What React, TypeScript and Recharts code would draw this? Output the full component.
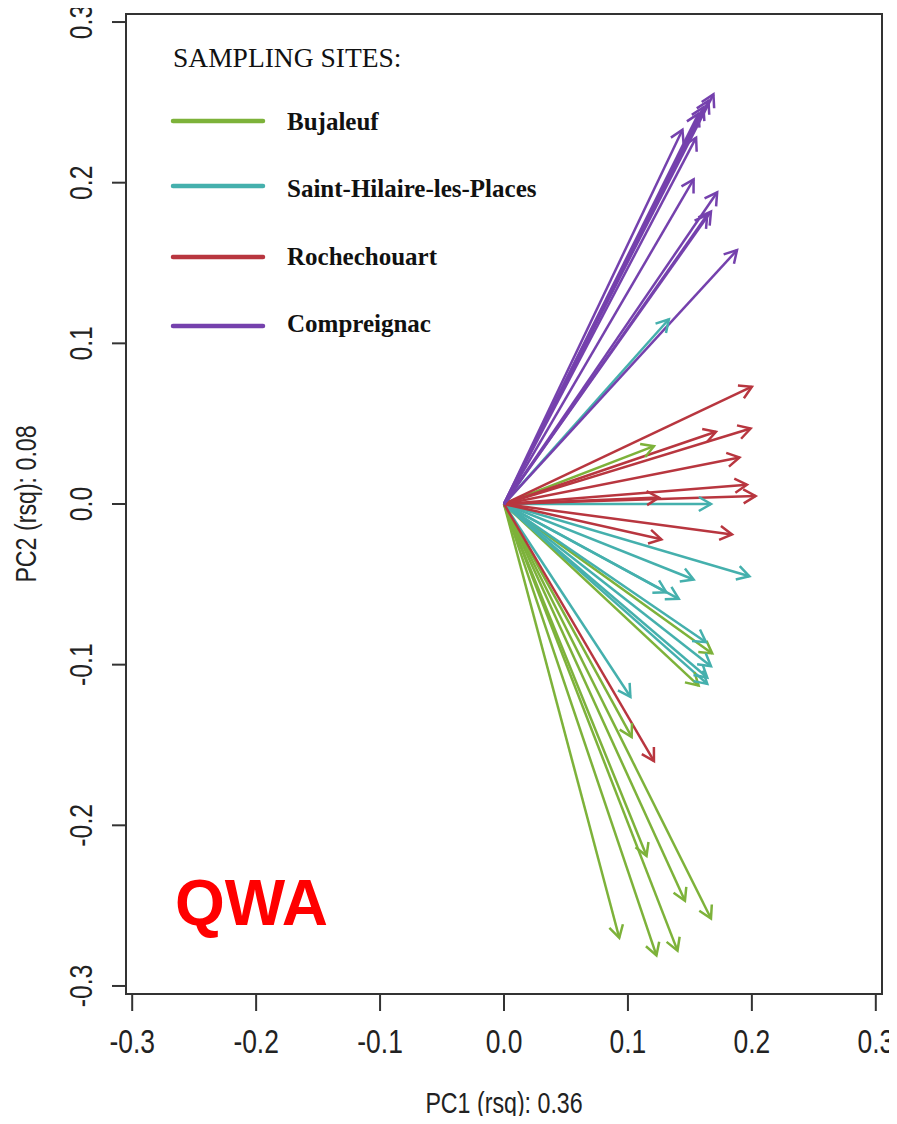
import { ComposedChart, Line, XAxis, YAxis, ReferenceArea, Legend, Label } from "recharts";

const sites = ["Bujaleuf", "Saint-Hilaire-les-Places", "Rochechouart", "Compreignac"];
const siteColors = ["#7db23a", "#45b0ad", "#b8363f", "#7541ad"];

// arrow tips (PC1, PC2), one list per site
const bujaleuf = [
  [0.121, 0.036], [0.168, -0.093], [0.157, -0.113], [0.103, -0.145], [0.093, -0.27],
  [0.123, -0.281], [0.14, -0.278], [0.115, -0.219], [0.146, -0.247], [0.167, -0.258],
];
const saintHilaire = [
  [0.133, 0.115], [0.167, 0.0], [0.198, -0.045], [0.153, -0.047], [0.131, -0.055],
  [0.141, -0.059], [0.163, -0.086], [0.167, -0.101], [0.164, -0.108], [0.164, -0.112],
  [0.102, -0.12],
];
const rochechouart = [
  [0.2, 0.073], [0.171, 0.045], [0.199, 0.047], [0.19, 0.029], [0.196, 0.012],
  [0.203, 0.005], [0.125, 0.004], [0.127, -0.022], [0.184, -0.019], [0.121, -0.16],
];
const compreignac = [
  [0.169, 0.255], [0.165, 0.251], [0.161, 0.247], [0.157, 0.243], [0.144, 0.233],
  [0.155, 0.228], [0.153, 0.202], [0.172, 0.194], [0.164, 0.18], [0.167, 0.182],
  [0.188, 0.158],
];
const siteTips = [bujaleuf, saintHilaire, rochechouart, compreignac];

const axisTicks = [-0.3, -0.2, -0.1, 0, 0.1, 0.2, 0.3];
const domain: [number, number] = [-0.305, 0.305];

const arrows = siteTips.flatMap((tips, s) =>
  tips.map((t, i) => ({
    key: `${s}-${i}`,
    color: siteColors[s],
    data: [{ x: 0, y: 0 }, { x: t[0], y: t[1] }],
  }))
);

const makeHead = (color: string) => (props: any) => {
  const { cx, cy, index, points, payload } = props;
  if (index !== 1 || cx == null) return <g key={`h${index}`} />;
  let ang: number;
  if (points && points.length > 1) ang = Math.atan2(cy - points[0].y, cx - points[0].x);
  else ang = Math.atan2(-payload.y * 1607, payload.x * 1239);
  const len = 14;
  const a1 = ang + Math.PI - Math.PI / 6;
  const a2 = ang + Math.PI + Math.PI / 6;
  return (
    <path
      key={`h${index}`}
      d={`M${cx + len * Math.cos(a1)},${cy + len * Math.sin(a1)} L${cx},${cy} L${cx + len * Math.cos(a2)},${cy + len * Math.sin(a2)}`}
      stroke={color}
      strokeWidth={2.5}
      fill="none"
    />
  );
};

const XTick = ({ x, y, payload }: any) => (
  <g transform={`translate(${x},${y + 40})`}>
    <text transform="scale(0.8,1)" textAnchor="middle" fontFamily="'Liberation Sans', Arial, sans-serif" fontSize={33} fill="#222">
      {Number(payload.value).toFixed(1)}
    </text>
  </g>
);

const YTick = ({ x, y, payload }: any) => (
  <g transform={`translate(${x - 18},${y}) rotate(-90)`}>
    <text transform="scale(0.8,1)" textAnchor="middle" fontFamily="'Liberation Sans', Arial, sans-serif" fontSize={31} fill="#222">
      {Number(payload.value).toFixed(1)}
    </text>
  </g>
);

const XTitle = ({ viewBox }: any) => (
  <g transform={`translate(${viewBox.x + viewBox.width / 2},${viewBox.y + 119})`}>
    <text transform="scale(0.8,1)" textAnchor="middle" fontFamily="'Liberation Sans', Arial, sans-serif" fontSize={29} fill="#222">
      PC1 (rsq): 0.36
    </text>
  </g>
);

const YTitle = ({ viewBox }: any) => (
  <g transform={`translate(${viewBox.x + 36},${viewBox.y + viewBox.height / 2}) rotate(-90)`}>
    <text transform="scale(0.8,1)" textAnchor="middle" fontFamily="'Liberation Sans', Arial, sans-serif" fontSize={29} fill="#222">
      PC2 (rsq): 0.08
    </text>
  </g>
);

const SiteLegend = () => (
  <svg width={420} height={920} style={{ overflow: "visible" }}>
    <text x={15} y={39} fontFamily="'Liberation Serif', 'Times New Roman', serif" fontSize={27.5} fill="#111">
      SAMPLING SITES:
    </text>
    {sites.map((name, i) => {
      const ly = [93, 158, 229, 298][i];
      const ty = [102, 169, 237, 304][i];
      return (
        <g key={name}>
          <line x1={15} x2={105} y1={ly} y2={ly} stroke={siteColors[i]} strokeWidth={4.5} strokeLinecap="round" />
          <text x={129} y={ty} fontFamily="'Liberation Serif', 'Times New Roman', serif" fontWeight="bold" fontSize={25} fill="#111">
            {name}
          </text>
        </g>
      );
    })}
    <text x={17} y={897} fontFamily="'Liberation Sans', Arial, sans-serif" fontWeight="bold" fontSize={64} fill="#ff0000">
      QWA
    </text>
  </svg>
);

export default function App() {
  return (
    <div style={{ position: "relative", width: 897, height: 1124, margin: -8 }}>
      <ComposedChart width={897} height={1124} margin={{ top: 14, right: 15, left: 0, bottom: 0 }}>
        <XAxis
          dataKey="x"
          type="number"
          domain={domain}
          ticks={axisTicks}
          allowDataOverflow
          axisLine={false}
          tickLine={{ stroke: "#333", strokeWidth: 2 }}
          tickSize={17}
          tick={<XTick />}
          height={130}
        >
          <Label content={<XTitle />} />
        </XAxis>
        <YAxis
          dataKey="y"
          type="number"
          domain={domain}
          ticks={axisTicks}
          allowDataOverflow
          axisLine={false}
          tickLine={{ stroke: "#333", strokeWidth: 2 }}
          tickSize={14}
          tick={<YTick />}
          width={126}
        >
          <Label content={<YTitle />} />
        </YAxis>
        <ReferenceArea x1={domain[0]} x2={domain[1]} y1={domain[0]} y2={domain[1]} fill="none" stroke="#333" strokeWidth={2} />
        {arrows.map((a) => (
          <Line
            key={a.key}
            data={a.data}
            dataKey="y"
            type="linear"
            stroke={a.color}
            strokeWidth={2.5}
            dot={makeHead(a.color)}
            activeDot={false}
            legendType="none"
            isAnimationActive={false}
          />
        ))}
        <Legend
          layout="vertical"
          align="center"
          verticalAlign="middle"
          content={<SiteLegend />}
          wrapperStyle={{ left: 158, top: 28, width: 420, height: 920, pointerEvents: "none" }}
        />
      </ComposedChart>
    </div>
  );
}
